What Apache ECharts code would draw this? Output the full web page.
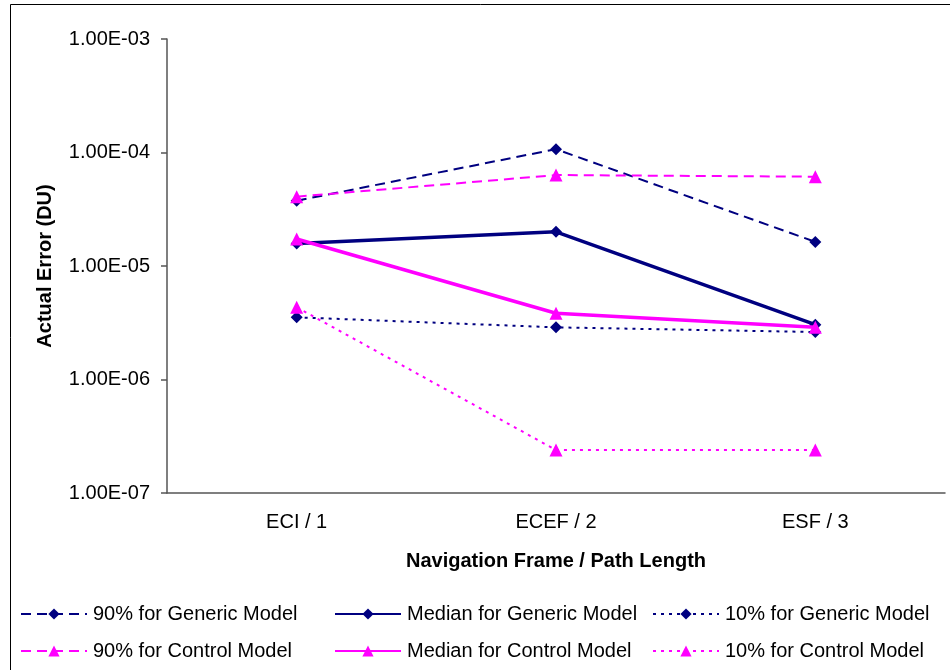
<!DOCTYPE html>
<html>
<head>
<meta charset="utf-8">
<script src="https://cdn.jsdelivr.net/npm/echarts@6/dist/echarts.min.js"></script>
<style>html,body{margin:0;padding:0;background:#fff;}#c{width:950px;height:670px;}</style>
</head>
<body>
<div id="c"></div>
<script>
const categories = ['ECI / 1', 'ECEF / 2', 'ESF / 3'];
const gen90 = [3.76e-5, 1.07e-4, 1.63e-5];
const genMed = [1.58e-5, 2.0e-5, 3.04e-6];
const gen10 = [3.53e-6, 2.88e-6, 2.62e-6];
const ctl90 = [4.08e-5, 6.33e-5, 6.12e-5];
const ctlMed = [1.73e-5, 3.83e-6, 2.88e-6];
const ctl10 = [4.33e-6, 2.39e-7, 2.39e-7];
const seriesNames = ['90% for Generic Model', 'Median for Generic Model', '10% for Generic Model',
                     '90% for Control Model', 'Median for Control Model', '10% for Control Model'];
const yMin = 1e-7, yMax = 1e-3;

const NAVY = '#000080', MAG = '#FF00FF';
const FONT = '"Liberation Sans", Arial, sans-serif';
const FS = 20;
const dashed = [10, 6], dotted = [3, 5];

function mk(name, data, color, type, width, symbol, size) {
  return {
    name, type: 'line', data, symbol, symbolSize: size,
    lineStyle: { color, width, type },
    itemStyle: { color, borderWidth: 0 },
    z: symbol === 'diamond' ? 3 : 4,
    animation: false
  };
}
const series = [
  mk(seriesNames[0], gen90, NAVY, dashed, 2, 'diamond', 12),
  mk(seriesNames[1], genMed, NAVY, 'solid', 3.5, 'diamond', 12),
  mk(seriesNames[2], gen10, NAVY, dotted, 2, 'diamond', 12),
  mk(seriesNames[3], ctl90, MAG, dashed, 2, 'triangle', 13),
  mk(seriesNames[4], ctlMed, MAG, 'solid', 3.5, 'triangle', 13),
  mk(seriesNames[5], ctl10, MAG, dotted, 2, 'triangle', 13)
];

function fmtE(v) {
  let e = Math.floor(Math.log10(v) + 1e-9);
  let m = v / Math.pow(10, e);
  return m.toFixed(2) + 'E' + (e < 0 ? '-' : '+') + String(Math.abs(e)).padStart(2, '0');
}

const legendPos = [[20, 604], [334, 604], [652, 604], [20, 641], [334, 641], [652, 641]];
const legends = seriesNames.map((n, i) => ({
  data: [n], left: legendPos[i][0], top: legendPos[i][1],
  itemWidth: 66, itemHeight: 14, itemGap: 0, padding: 0,
  textStyle: { fontFamily: FONT, fontSize: FS, color: '#000', padding: [0, 0, 0, 1] },
  selectedMode: false
}));

const chart = echarts.init(document.getElementById('c'), null, { renderer: 'canvas' });
chart.setOption({
  animation: false,
  backgroundColor: '#fff',
  textStyle: { fontFamily: FONT },
  graphic: [{
    type: 'rect', shape: { x: 10.5, y: 4.5, width: 960, height: 700 },
    style: { fill: null, stroke: '#000', lineWidth: 1 }, silent: true, z: -1
  }],
  legend: legends,
  grid: { left: 167, right: 5, top: 39, bottom: 177, containLabel: false },
  xAxis: {
    type: 'category', data: categories, boundaryGap: true,
    name: 'Navigation Frame / Path Length', nameLocation: 'middle', nameGap: 58,
    nameTextStyle: { fontFamily: FONT, fontSize: FS, fontWeight: 'bold', color: '#000' },
    axisLine: { lineStyle: { color: '#555', width: 1.5 } },
    axisTick: { show: false },
    axisLabel: { fontFamily: FONT, fontSize: FS, color: '#000', margin: 19 },
    splitLine: { show: false }
  },
  yAxis: {
    type: 'log', logBase: 10, min: yMin, max: yMax, interval: 1,
    name: 'Actual Error (DU)', nameLocation: 'middle', nameGap: 112, nameRotate: 90,
    nameTextStyle: { fontFamily: FONT, fontSize: FS, fontWeight: 'bold', color: '#000' },
    axisLine: { show: true, lineStyle: { color: '#555', width: 1.5 } },
    axisTick: { show: true, inside: false, length: 6, lineStyle: { color: '#555', width: 1.5 } },
    axisLabel: { fontFamily: FONT, fontSize: FS, color: '#000', margin: 17, formatter: fmtE },
    splitLine: { show: false }
  },
  series
});
</script>
</body>
</html>
